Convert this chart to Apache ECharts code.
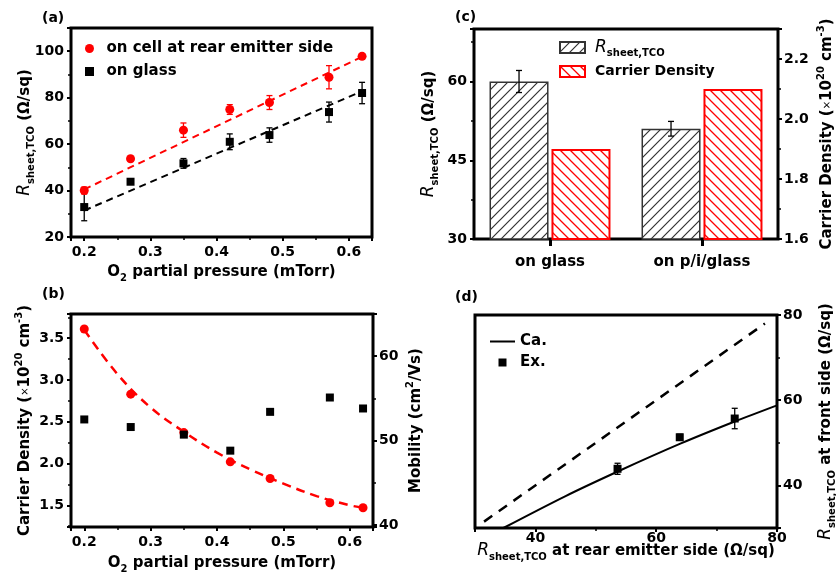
<!DOCTYPE html>
<html>
<head>
<meta charset="utf-8">
<script src="https://cdn.jsdelivr.net/npm/echarts@6/dist/echarts.min.js"></script>
<style>
  html, body { margin: 0; padding: 0; background: #fff; }
  #chart { width: 836px; height: 579px; }
</style>
</head>
<body>
<div id="chart"></div>
<script>
// ---- (a) sheet resistance of the TCO vs O2 partial pressure ----
const pressure = [0.2, 0.27, 0.35, 0.42, 0.48, 0.57, 0.62];
const rsCell = [40.0, 53.7, 66.0, 74.9, 77.9, 88.8, 97.8];
const rsCellErr = [1.5, 1.0, 3.1, 2.1, 3.0, 5.0, 1.2];
const rsGlass = [32.9, 43.8, 51.7, 61.0, 63.9, 73.8, 82.0];
const rsGlassErr = [5.9, 1.0, 2.1, 3.4, 3.1, 4.3, 4.6];
const fitCell = [[0.2, 40.5], [0.62, 97.6]];
const fitGlass = [[0.2, 31.4], [0.62, 82.8]];

// ---- (b) carrier density and mobility vs O2 partial pressure ----
const carrierDensity = [3.61, 2.83, 2.37, 2.02, 1.82, 1.53, 1.47];
const mobility = [52.5, 51.6, 50.7, 48.8, 53.4, 55.1, 53.8];
const densityFitX = [0.2, 0.25, 0.3, 0.35, 0.4, 0.45, 0.5, 0.55, 0.6, 0.62];
const densityFitY = [3.6, 3.07, 2.67, 2.38, 2.13, 1.93, 1.76, 1.61, 1.50, 1.47];

// ---- (c) substrate comparison ----
const substrates = ['on glass', 'on p/i/glass'];
const rsSubstrate = [60, 51];
const rsSubstrateErr = [2.1, 1.4];
const densitySubstrate = [1.9, 2.1];

// ---- (d) front vs rear emitter side sheet resistance ----
const rearRsCalc = [34.7, 45, 54, 64, 73, 80];
const frontRsCalc = [30, 37.5, 43.5, 49.8, 55, 58.8];
const equalLine = [[31.5, 31.5], [78, 78]];
const rearRsExp = [53.6, 63.9, 73.0];
const frontRsExp = [43.9, 51.3, 55.7];
const frontRsExpErr = [1.3, 0.7, 2.4];

const FONT = 'DejaVu Sans';
const BAR_W = 59;
const BAR_GAP = 0.05;
const SQUARE_ICON = 'path://M0,0h10v10h-10z';
const LINE_ICON = 'path://M0,0h25v2h-25z';

const rich = {
  b: { fontFamily: FONT, fontWeight: 'bold', fontSize: 15, lineHeight: 22, color: '#000' },
  i: { fontFamily: FONT, fontStyle: 'italic', fontWeight: 'normal', fontSize: 17, lineHeight: 22, color: '#000' },
  s: { fontFamily: FONT, fontWeight: 'bold', fontSize: 10, lineHeight: 12, verticalAlign: 'bottom', color: '#000' },
  p: { fontFamily: FONT, fontWeight: 'bold', fontSize: 10, lineHeight: 14, verticalAlign: 'top', color: '#000' },
  x: { fontFamily: FONT, fontWeight: 'normal', fontSize: 10, lineHeight: 22, color: '#000' }
};

const rsName = '{i|R}{s|sheet,TCO}{b| (Ω/sq)}';
const o2Name = '{b|O}{s|2}{b| partial pressure (mTorr)}';
const cdName = '{b|Carrier Density (}{x|×}{b|10}{p|20}{b| cm}{p|-3}{b|)}';
const mobName = '{b|Mobility (cm}{p|2}{b|/Vs)}';
const frontName = '{i|R}{s|sheet,TCO}{b| at front side (Ω/sq)}';
const rearName = '{i|R}{s|sheet,TCO}{b| at rear emitter side (Ω/sq)}';

// diagonal hatch tile: dir 1 => '/', dir -1 => '\'
function hatch(color, dir, width) {
  const s = 10;
  const c = document.createElement('canvas');
  c.width = s; c.height = s;
  const g = c.getContext('2d');
  g.fillStyle = '#fff';
  g.fillRect(0, 0, s, s);
  g.strokeStyle = color;
  g.lineWidth = width;
  g.beginPath();
  if (dir > 0) {
    g.moveTo(-1, s + 1); g.lineTo(s + 1, -1);
    g.moveTo(-2, 2); g.lineTo(2, -2);
    g.moveTo(s - 2, s + 2); g.lineTo(s + 2, s - 2);
  } else {
    g.moveTo(-1, -1); g.lineTo(s + 1, s + 1);
    g.moveTo(-2, s - 2); g.lineTo(2, s + 2);
    g.moveTo(s - 2, -2); g.lineTo(s + 2, 2);
  }
  g.stroke();
  return c;
}

function tickFmt(step, digits) {
  return function (v) {
    const k = v / step;
    return Math.abs(k - Math.round(k)) < 1e-6 ? v.toFixed(digits) : '';
  };
}

function errorBars(color, offset) {
  return function (params, api) {
    const x = api.value(0), y = api.value(1), e = api.value(2);
    const hi = api.coord([x, y + e]);
    const lo = api.coord([x, y - e]);
    const cx = hi[0] + offset;
    const w = 3;
    const style = { stroke: color, lineWidth: 1.3 };
    return {
      type: 'group',
      children: [
        { type: 'line', shape: { x1: cx, y1: hi[1], x2: cx, y2: lo[1] }, style: style },
        { type: 'line', shape: { x1: cx - w, y1: hi[1], x2: cx + w, y2: hi[1] }, style: style },
        { type: 'line', shape: { x1: cx - w, y1: lo[1], x2: cx + w, y2: lo[1] }, style: style }
      ]
    };
  };
}

function valueAxis(o) {
  const base = {
    type: 'value',
    axisLine: { show: false },
    axisTick: { show: true, inside: false, length: 4, lineStyle: { color: '#000', width: 2 } },
    minorTick: { show: true, splitNumber: 2, length: 3, lineStyle: { color: '#000', width: 1.5 } },
    splitLine: { show: false },
    minorSplitLine: { show: false },
    axisLabel: { color: '#000', fontFamily: FONT, fontWeight: 'bold', fontSize: 14, margin: 7 },
    nameLocation: 'middle',
    nameMoveOverlap: false,
    nameTextStyle: { rich: rich }
  };
  const out = Object.assign({}, base, o);
  if (o.axisLabel) out.axisLabel = Object.assign({}, base.axisLabel, o.axisLabel);
  return out;
}

const gridBase = { show: true, borderColor: '#000', borderWidth: 3, backgroundColor: 'transparent', outerBoundsMode: 'none', containLabel: false };

const legendText = { fontFamily: FONT, fontWeight: 'bold', fontSize: 15, color: '#000', lineHeight: 17 };
const titleText = { fontFamily: FONT, fontWeight: 'bold', fontSize: 14, color: '#000' };

const blackHatch = { image: hatch('#333', 1, 1.2), repeat: 'repeat' };
const redHatch = { image: hatch('#ff0000', -1, 1.3), repeat: 'repeat' };

const chart = echarts.init(document.getElementById('chart'), null, { renderer: 'canvas' });

chart.setOption({
  animation: false,
  backgroundColor: '#fff',
  title: [
    { text: '(a)', left: 42, top: 11, padding: 0, textStyle: titleText },
    { text: '(b)', left: 42, top: 287, padding: 0, textStyle: titleText },
    { text: '(c)', left: 455, top: 10, padding: 0, textStyle: titleText },
    { text: '(d)', left: 455, top: 290, padding: 0, textStyle: titleText }
  ],
  legend: [
    {
      left: 85, top: 40, padding: 0, orient: 'vertical', itemWidth: 24, itemHeight: 9, itemGap: 6,
      selectedMode: false, symbolKeepAspect: true,
      data: [
        { name: 'on cell at rear emitter side', icon: 'circle' },
        { name: 'on glass', icon: SQUARE_ICON }
      ],
      textStyle: legendText
    },
    {
      left: 559, top: 39, padding: 0, orient: 'vertical', itemWidth: 25, itemHeight: 11, itemGap: 6, icon: 'rect',
      selectedMode: false, data: ['Rsheet', 'Carrier Density'],
      formatter: function (n) { return n === 'Rsheet' ? '{g|}{i|R}{s|sheet,TCO}' : '{g|}{c|Carrier Density}'; },
      textStyle: {
        rich: {
          g: { width: 5 },
          i: rich.i, s: rich.s,
          c: { fontFamily: FONT, fontWeight: 'bold', fontSize: 14, lineHeight: 22, color: '#000' }
        }
      }
    },
    {
      left: 490, top: 333, padding: 0, orient: 'vertical', itemWidth: 25, itemHeight: 8, itemGap: 4,
      selectedMode: false, symbolKeepAspect: true,
      data: [
        { name: 'Ca.', icon: LINE_ICON },
        { name: 'Ex.', icon: SQUARE_ICON }
      ],
      textStyle: legendText
    }
  ],
  grid: [
    Object.assign({ left: 71, top: 28, width: 301, height: 209 }, gridBase),
    Object.assign({ left: 71, top: 314, width: 302, height: 213 }, gridBase),
    Object.assign({ left: 474, top: 29, width: 304, height: 210 }, gridBase),
    Object.assign({ left: 475, top: 315, width: 302, height: 213 }, gridBase)
  ],
  xAxis: [
    valueAxis({ gridIndex: 0, min: 0.18, max: 0.635, splitNumber: 5,
      axisLabel: { formatter: tickFmt(0.1, 1), margin: 8 }, name: o2Name, nameGap: 24 }),
    valueAxis({ gridIndex: 1, min: 0.18, max: 0.635, splitNumber: 5,
      axisLabel: { formatter: tickFmt(0.1, 1), margin: 8 }, name: o2Name, nameGap: 25 }),
    {
      type: 'category', gridIndex: 2, data: substrates, boundaryGap: true,
      axisLine: { show: false },
      axisTick: { show: true, alignWithLabel: true, length: 7, lineStyle: { color: '#000', width: 3 } },
      axisLabel: { color: '#000', fontFamily: FONT, fontWeight: 'bold', fontSize: 15, margin: 16 },
      splitLine: { show: false }
    },
    valueAxis({ gridIndex: 3, min: 30, max: 80, splitNumber: 3,
      axisLabel: { formatter: tickFmt(20, 0), margin: 3 }, name: rearName, nameGap: 12 })
  ],
  yAxis: [
    valueAxis({ gridIndex: 0, min: 20, max: 110, splitNumber: 5,
      axisLabel: { formatter: tickFmt(20, 0) }, name: rsName, nameGap: 35 }),
    valueAxis({ gridIndex: 1, min: 1.24, max: 3.79, splitNumber: 5,
      axisLabel: { formatter: tickFmt(0.5, 1) }, name: cdName, nameGap: 35 }),
    valueAxis({ gridIndex: 1, position: 'right', min: 39.75, max: 65, splitNumber: 3,
      axisLabel: { formatter: tickFmt(10, 0), margin: 6 }, name: mobName, nameGap: 32, nameRotate: 90 }),
    valueAxis({ gridIndex: 2, min: 30, max: 70, interval: 15,
      axisLabel: { formatter: tickFmt(15, 0) }, name: rsName, nameGap: 34 }),
    valueAxis({ gridIndex: 2, position: 'right', min: 1.6, max: 2.3, interval: 0.2,
      axisLabel: { formatter: tickFmt(0.2, 1), margin: 6 }, name: cdName, nameGap: 38, nameRotate: 90 }),
    valueAxis({ gridIndex: 3, position: 'right', min: 30, max: 80, splitNumber: 3,
      axisLabel: { formatter: tickFmt(20, 0), margin: 6 }, name: frontName, nameGap: 38, nameRotate: 90 })
  ],
  series: [
    // (a) linear trends
    { type: 'line', name: 'trend cell', xAxisIndex: 0, yAxisIndex: 0, data: fitCell, symbol: 'none',
      lineStyle: { color: '#ff0000', width: 2, type: [7, 5] }, itemStyle: { color: '#ff0000' }, z: 1, silent: true },
    { type: 'line', name: 'trend glass', xAxisIndex: 0, yAxisIndex: 0, data: fitGlass, symbol: 'none',
      lineStyle: { color: '#000', width: 2, type: [7, 5] }, itemStyle: { color: '#000' }, z: 1, silent: true },
    { type: 'custom', name: 'cell err', xAxisIndex: 0, yAxisIndex: 0, z: 2,
      data: pressure.map(function (x, i) { return [x, rsCell[i], rsCellErr[i]]; }),
      encode: { x: 0, y: 1 }, renderItem: errorBars('#ff0000', 0) },
    { type: 'custom', name: 'glass err', xAxisIndex: 0, yAxisIndex: 0, z: 2,
      data: pressure.map(function (x, i) { return [x, rsGlass[i], rsGlassErr[i]]; }),
      encode: { x: 0, y: 1 }, renderItem: errorBars('#000', 0) },
    { type: 'scatter', name: 'on cell at rear emitter side', xAxisIndex: 0, yAxisIndex: 0, z: 3,
      data: pressure.map(function (x, i) { return [x, rsCell[i]]; }),
      symbol: 'circle', symbolSize: 9, itemStyle: { color: '#ff0000', opacity: 1 } },
    { type: 'scatter', name: 'on glass', xAxisIndex: 0, yAxisIndex: 0, z: 3,
      data: pressure.map(function (x, i) { return [x, rsGlass[i]]; }),
      symbol: 'rect', symbolSize: 8, itemStyle: { color: '#000', opacity: 1 } },

    // (b)
    { type: 'line', name: 'density trend', xAxisIndex: 1, yAxisIndex: 1, smooth: 0.4, symbol: 'none',
      data: densityFitX.map(function (x, i) { return [x, densityFitY[i]]; }),
      lineStyle: { color: '#ff0000', width: 2.5, type: [9, 6] }, itemStyle: { color: '#ff0000' }, z: 1 },
    { type: 'scatter', name: 'density', xAxisIndex: 1, yAxisIndex: 1, z: 3,
      data: pressure.map(function (x, i) { return [x, carrierDensity[i]]; }),
      symbol: 'circle', symbolSize: 9, itemStyle: { color: '#ff0000', opacity: 1 } },
    { type: 'scatter', name: 'mobility', xAxisIndex: 1, yAxisIndex: 2, z: 3,
      data: pressure.map(function (x, i) { return [x, mobility[i]]; }),
      symbol: 'rect', symbolSize: 8, itemStyle: { color: '#000', opacity: 1 } },

    // (c)
    { type: 'bar', name: 'Rsheet', xAxisIndex: 2, yAxisIndex: 3, data: rsSubstrate,
      barWidth: BAR_W, barGap: (BAR_GAP * 100) + '%',
      itemStyle: { color: blackHatch, borderColor: '#333', borderWidth: 1.5 } },
    { type: 'bar', name: 'Carrier Density', xAxisIndex: 2, yAxisIndex: 4, data: densitySubstrate,
      barWidth: BAR_W, barGap: (BAR_GAP * 100) + '%',
      itemStyle: { color: redHatch, borderColor: '#ff0000', borderWidth: 2 } },
    { type: 'custom', name: 'substrate err', xAxisIndex: 2, yAxisIndex: 3, z: 5,
      data: rsSubstrate.map(function (v, i) { return [i, v, rsSubstrateErr[i]]; }),
      encode: { x: 0, y: 1 }, renderItem: errorBars('#000', -(BAR_W * (1 + BAR_GAP)) / 2) },

    // (d)
    { type: 'line', name: 'equal', xAxisIndex: 3, yAxisIndex: 5, data: equalLine, symbol: 'none',
      lineStyle: { color: '#000', width: 2.5, type: [10, 8] }, itemStyle: { color: '#000' }, z: 1 },
    { type: 'line', name: 'Ca.', xAxisIndex: 3, yAxisIndex: 5, smooth: 0.3, symbol: 'none',
      data: rearRsCalc.map(function (x, i) { return [x, frontRsCalc[i]]; }),
      lineStyle: { color: '#000', width: 2 }, itemStyle: { color: '#000' }, z: 2 },
    { type: 'custom', name: 'exp err', xAxisIndex: 3, yAxisIndex: 5, z: 3,
      data: rearRsExp.map(function (x, i) { return [x, frontRsExp[i], frontRsExpErr[i]]; }),
      encode: { x: 0, y: 1 }, renderItem: errorBars('#000', 0) },
    { type: 'scatter', name: 'Ex.', xAxisIndex: 3, yAxisIndex: 5, z: 4,
      data: rearRsExp.map(function (x, i) { return [x, frontRsExp[i]]; }),
      symbol: 'rect', symbolSize: 8, itemStyle: { color: '#000', opacity: 1 } }
  ]
});
</script>
</body>
</html>
